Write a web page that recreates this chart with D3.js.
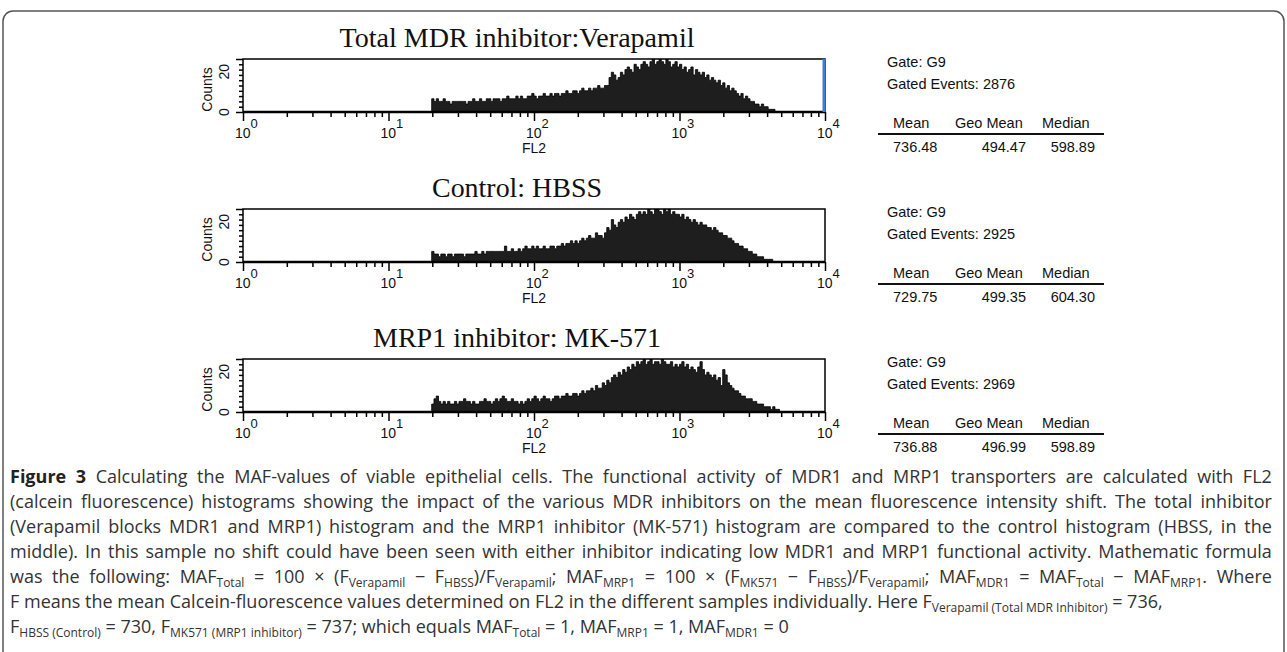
<!DOCTYPE html>
<html>
<head>
<meta charset="utf-8">
<script src="https://cdn.jsdelivr.net/npm/d3@7"></script>
<style>
  html, body { margin: 0; padding: 0; background: #fff; }
  svg { display: block; }
</style>
</head>
<body>
<svg id="chart" width="1287" height="652"></svg>
<script>
// histogram channels: 64 per decade, first filled channel is 83 (~FL2 20)
var startChannel = 83;
var channelsPerDecade = 64;

var verapamilCounts = [
  5,4,5,4,4,5,4,4,3,4,4,4,4,
  4,4,3,4,4,5,4,4,5,4,4,5,5,4,5,5,
  5,4,5,5,6,5,5,5,6,5,6,5,5,6,6,7,
  6,5,6,6,7,6,6,7,6,7,7,6,7,7,8,7,
  7,8,8,7,8,9,8,8,9,8,9,9,10,9,9,10,
  10,13,15,14,12,13,15,14,16,17,16,15,18,17,16,18,
  19,18,17,19,20,18,19,21,19,18,20,19,17,18,19,17,
  18,16,17,15,16,17,14,16,15,14,15,13,14,12,13,12,
  11,12,10,11,9,10,8,9,8,7,6,7,5,6,5,4,
  4,3,3,2,3,2,2,1,1,1,0,0
];
var hbssCounts = [
  4,3,3,2,3,3,2,3,3,2,3,3,3,
  3,2,3,3,3,3,4,3,3,4,3,4,4,4,4,4,
  4,4,4,6,4,4,5,4,4,5,4,5,6,5,5,6,
  5,6,5,5,6,5,5,6,6,5,6,6,7,6,7,7,
  8,7,8,7,8,9,8,9,10,9,9,11,10,10,9,11,
  13,12,16,14,13,15,16,15,17,16,18,17,16,18,19,18,
  19,18,20,19,18,21,20,19,18,20,19,20,18,19,18,18,
  17,18,16,17,16,15,16,15,14,15,14,14,13,13,12,13,
  12,11,11,10,10,9,9,8,7,7,6,6,5,5,4,4,
  3,3,2,2,2,1,1,1,1,0,0,0
];
var mk571Counts = [
  3,5,6,4,3,4,3,4,3,3,4,3,4,
  4,5,4,4,3,4,3,3,4,4,5,4,4,3,4,5,
  4,5,6,5,4,4,5,4,4,3,4,3,4,5,4,5,
  6,5,4,5,6,5,5,4,5,6,6,5,6,6,7,6,
  6,7,7,6,7,8,7,8,8,9,8,10,9,9,11,10,
  12,11,13,14,13,15,14,16,15,17,16,18,17,19,18,19,
  20,18,19,20,18,19,19,18,20,19,18,18,19,17,18,17,
  18,19,17,18,16,17,16,15,17,19,16,14,15,14,13,14,
  12,13,10,16,14,11,10,9,8,8,7,6,6,5,5,5,
  4,4,3,3,3,2,2,2,1,2,1,1
];

var panelTitles = ["Total MDR inhibitor:Verapamil", "Control: HBSS", "MRP1 inhibitor: MK-571"];
var titleWidths = [355, 170, 288];
var panelCounts = [verapamilCounts, hbssCounts, mk571Counts];
var gateNames = ["G9", "G9", "G9"];
var gatedEvents = ["2876", "2925", "2969"];
var meanValues = ["736.48", "729.75", "736.88"];
var geoMeanValues = ["494.47", "499.35", "496.99"];
var medianValues = ["598.89", "604.30", "598.89"];
var decades = [1, 10, 100, 1000, 10000];
var yTickValues = [0, 2, 4, 6, 8, 10, 12, 14, 16, 18, 20];

// caption lines: [text, style]  style "b" = bold, "s" = subscript
var captionLines = [
  [["Figure 3", "b"], [" Calculating the MAF-values of viable epithelial cells. The functional activity of MDR1 and MRP1 transporters are calculated with FL2"]],
  [["(calcein fluorescence) histograms showing the impact of the various MDR inhibitors on the mean fluorescence intensity shift. The total inhibitor"]],
  [["(Verapamil blocks MDR1 and MRP1) histogram and the MRP1 inhibitor (MK-571) histogram are compared to the control histogram (HBSS, in the"]],
  [["middle). In this sample no shift could have been seen with either inhibitor indicating low MDR1 and MRP1 functional activity. Mathematic formula"]],
  [["was the following: MAF"], ["Total", "s"], [" = 100 \u00d7 (F"], ["Verapamil", "s"], [" \u2212 F"], ["HBSS", "s"], [")/F"], ["Verapamil", "s"],
   ["; MAF"], ["MRP1", "s"], [" = 100 \u00d7 (F"], ["MK571", "s"], [" \u2212 F"], ["HBSS", "s"], [")/F"], ["Verapamil", "s"],
   ["; MAF"], ["MDR1", "s"], [" = MAF"], ["Total", "s"], [" \u2212 MAF"], ["MRP1", "s"], [". Where"]],
  [["F means the mean Calcein-fluorescence values determined on FL2 in the different samples individually. Here F"], ["Verapamil (Total MDR Inhibitor)", "s"], [" = 736,"]],
  [["F"], ["HBSS (Control)", "s"], [" = 730, F"], ["MK571 (MRP1 inhibitor)", "s"], [" = 737; which equals MAF"], ["Total", "s"],
   [" = 1, MAF"], ["MRP1", "s"], [" = 1, MAF"], ["MDR1", "s"], [" = 0"]]
];

var svg = d3.select("#chart");
var sans = "'Liberation Sans', Arial, sans-serif";
var defs = svg.append("defs");

// outer frame
svg.append("rect")
  .attr("x", 3).attr("y", 11)
  .attr("width", 1281).attr("height", 700)
  .attr("rx", 10)
  .attr("fill", "none")
  .attr("stroke", "#555")
  .attr("stroke-width", 1.5);

var x = d3.scaleLog().domain([1, 10000]).range([243, 825]);
var panelStep = 150;

panelTitles.forEach(function (title, i) {
  var top = 59 + i * panelStep;
  var bottom = 112 + i * panelStep;
  var y = d3.scaleLinear().domain([0, 20]).range([bottom, top]);
  var g = svg.append("g");

  g.append("text")
    .attr("x", 517).attr("y", 47 + i * panelStep)
    .attr("text-anchor", "middle")
    .attr("textLength", titleWidths[i])
    .attr("lengthAdjust", "spacingAndGlyphs")
    .style("font-family", "'Liberation Serif', 'DejaVu Serif', serif")
    .style("font-size", "27px")
    .style("fill", "#111")
    .text(title);

  defs.append("clipPath").attr("id", "clip" + i)
    .append("rect").attr("x", 243).attr("y", top).attr("width", 582).attr("height", bottom - top);

  // histogram bins
  var bins = panelCounts[i].map(function (c, j) {
    var ch = startChannel + j;
    return { x0: Math.pow(10, ch / channelsPerDecade), c: c };
  });
  bins.push({ x0: Math.pow(10, (startChannel + bins.length) / channelsPerDecade), c: 0 });

  var area = d3.area()
    .curve(d3.curveStepAfter)
    .x(function (d) { return x(d.x0); })
    .y0(y(0))
    .y1(function (d) { return y(d.c); });

  g.append("g")
    .attr("clip-path", "url(#clip" + i + ")")
    .append("path")
    .datum(bins)
    .attr("d", area)
    .attr("fill", "#1e1e1e")
    .attr("stroke", "#000")
    .attr("stroke-width", 0.8);

  // frame
  g.append("rect")
    .attr("x", 243).attr("y", top)
    .attr("width", 582).attr("height", bottom - top)
    .attr("fill", "none").attr("stroke", "#000").attr("stroke-width", 1.5);
  g.append("line")
    .attr("x1", 243).attr("x2", 825).attr("y1", bottom).attr("y2", bottom)
    .attr("stroke", "#000").attr("stroke-width", 2.5);

  // gate marker only on the first histogram
  if (i === 0) {
    g.append("line")
      .attr("x1", x(10000) - 1).attr("x2", x(10000) - 1)
      .attr("y1", top).attr("y2", bottom)
      .attr("stroke", "#3d7ed6").attr("stroke-width", 3);
  }

  // x axis ticks
  var minorTicks = [];
  decades.slice(0, 4).forEach(function (d) {
    for (var k = 2; k <= 9; k++) minorTicks.push(d * k);
  });
  var xMinor = g.append("g")
    .attr("transform", "translate(0," + bottom + ")")
    .call(d3.axisBottom(x).tickValues(minorTicks).tickSize(5).tickFormat(""));
  var xMajor = g.append("g")
    .attr("transform", "translate(0," + bottom + ")")
    .call(d3.axisBottom(x).tickValues(decades).tickSize(9).tickFormat(""));
  [xMinor, xMajor].forEach(function (ax) {
    ax.select(".domain").remove();
    ax.selectAll("line").attr("stroke", "#000").attr("stroke-width", 1.5);
  });

  decades.forEach(function (d, k) {
    var t = g.append("text")
      .attr("x", x(d) - 8).attr("y", bottom + 26)
      .style("font-family", sans)
      .style("font-size", "14px")
      .style("fill", "#111");
    t.append("tspan").text("10");
    t.append("tspan").attr("dy", -10).style("font-size", "13px").text(k);
  });

  g.append("text")
    .attr("x", x(100)).attr("y", bottom + 41)
    .attr("text-anchor", "middle")
    .style("font-family", sans)
    .style("font-size", "14px")
    .style("fill", "#111")
    .text("FL2");

  // y axis
  var yAx = g.append("g")
    .attr("transform", "translate(243,0)")
    .call(d3.axisLeft(y).tickValues(yTickValues).tickSize(4).tickFormat(""));
  yAx.select(".domain").remove();
  yAx.selectAll("line").attr("stroke", "#000").attr("stroke-width", 1.5)
    .attr("x2", function (d) { return d === 0 || d === 20 ? -7 : -4; });

  [0, 20].forEach(function (v) {
    g.append("text")
      .attr("transform", "translate(229," + (v === 20 ? y(v) + 5 : y(v)) + ") rotate(-90)")
      .attr("text-anchor", v === 20 ? "end" : "middle")
      .style("font-family", sans)
      .style("font-size", "14px")
      .style("fill", "#111")
      .text(v);
  });
  g.append("text")
    .attr("transform", "translate(212," + ((top + bottom) / 2 + 4) + ") rotate(-90)")
    .attr("text-anchor", "middle")
    .style("font-family", sans)
    .style("font-size", "14px")
    .style("fill", "#111")
    .text("Counts");

  // statistics block
  var s = svg.append("g")
    .attr("transform", "translate(0," + i * panelStep + ")")
    .style("font-family", sans)
    .style("font-size", "14.5px")
    .style("fill", "#111");
  s.append("text").attr("x", 887).attr("y", 67).text("Gate: " + gateNames[i]);
  s.append("text").attr("x", 887).attr("y", 89).text("Gated Events: " + gatedEvents[i]);
  s.append("text").attr("x", 893).attr("y", 128).text("Mean");
  s.append("text").attr("x", 955).attr("y", 128).text("Geo Mean");
  s.append("text").attr("x", 1042).attr("y", 128).text("Median");
  s.append("line").attr("x1", 878).attr("x2", 1104).attr("y1", 134).attr("y2", 134)
    .attr("stroke", "#111").attr("stroke-width", 2);
  s.append("text").attr("x", 893).attr("y", 152).text(meanValues[i]);
  s.append("text").attr("x", 1026).attr("y", 152).attr("text-anchor", "end").text(geoMeanValues[i]);
  s.append("text").attr("x", 1095).attr("y", 152).attr("text-anchor", "end").text(medianValues[i]);
});

// caption
var cap = svg.append("g")
  .style("font-family", "'Open Sans', 'Noto Sans', sans-serif")
  .style("font-size", "18px")
  .style("fill", "#333");

var capNodes = captionLines.map(function (segs, li) {
  var t = cap.append("text").attr("x", 0).attr("y", 483 + li * 25);
  var shifted = false;
  segs.forEach(function (seg) {
    var ts = t.append("tspan").text(seg[0]);
    if (seg[1] === "s") {
      ts.attr("dy", shifted ? 0 : 4).style("font-size", "12px");
      shifted = true;
    } else {
      if (shifted) ts.attr("dy", -4);
      shifted = false;
      if (seg[1] === "b") ts.style("font-weight", "bold").style("fill", "#222");
    }
  });
  return t;
});

// horizontal squeeze so the widest line nearly fills, first five lines justified
var justified = 1262;
var widest = d3.max(capNodes.slice(0, 5), function (t) { return t.node().getComputedTextLength(); });
var k = justified / (widest * 1.04);
capNodes.slice(0, 5).forEach(function (t, li) {
  var w = t.node().getComputedTextLength();
  var spaces = captionLines[li].map(function (s) { return s[0]; }).join("").split(" ").length - 1;
  var extra = justified / k - w;
  if (extra > 0) t.style("word-spacing", (extra / spaces) + "px");
});
cap.attr("transform", "translate(10,0) scale(" + k + ",1)");
</script>
</body>
</html>
